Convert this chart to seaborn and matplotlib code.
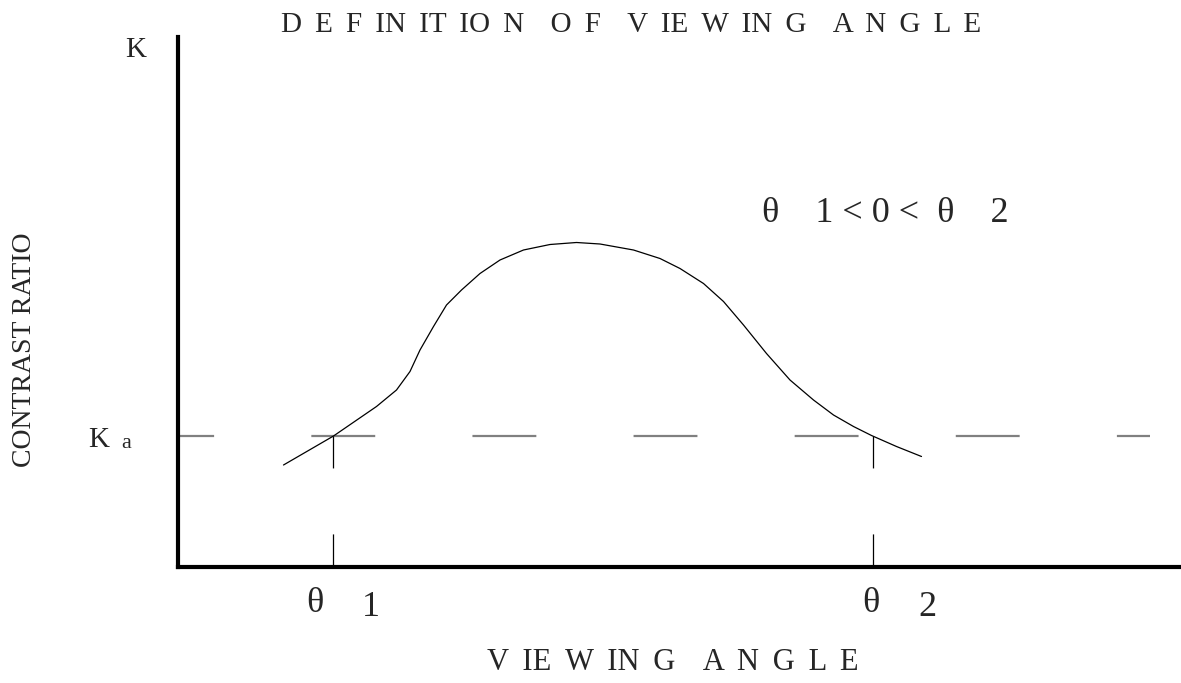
import numpy as np
import pandas as pd
import matplotlib.pyplot as plt
import seaborn as sns

# Curva de contraste (ángulo, razón de contraste)
angle = [-58.9, -48.9, -40.3, -36.3, -33.6, -31.6, -28.9, -26.3, -23.3, -19.6,
         -15.6, -10.9, -5.6, -0.3, 4.4, 11.1, 16.4, 20.4, 25.1, 29.1,
         33.1, 37.7, 42.4, 47.1, 51.1, 55.1, 58.7, 63.7, 68.7]
contrast = [20.4, 26.2, 32.1, 35.4, 39.1, 43.4, 48.1, 52.4, 55.4, 58.7,
            61.4, 63.4, 64.5, 64.9, 64.6, 63.4, 61.7, 59.7, 56.7, 53.1,
            48.4, 42.7, 37.4, 33.4, 30.4, 28.1, 26.3, 24.1, 22.1]
theta_1 = -49
theta_2 = 59
k_a = 26.2
ka_line_x = [-80, 114.4]

df = pd.DataFrame({"angle": angle, "contrast": contrast})

sns.set_style("white")
plt.rcParams["font.family"] = ["Liberation Serif", "DejaVu Serif"]
plt.rcParams["lines.scale_dashes"] = False

fig = plt.figure(figsize=(11.81, 6.83), dpi=100)
ax = fig.add_axes([178 / 1181, 116 / 683, 1 - 178 / 1181, 530 / 683])

# línea discontinua de Ka
ax.plot(ka_line_x, [k_a, k_a], color="#808080", lw=1.6,
        linestyle=(20, (46, 70)), dash_capstyle="butt")

# curva
sns.lineplot(data=df, x="angle", y="contrast", ax=ax, color="black", lw=0.9, sort=False)

# líneas verticales en theta1 y theta2
for t in [theta_1, theta_2]:
    ax.plot([t, t], [k_a, 0], color="black", lw=0.9,
            linestyle=(0, (23, 47.5)), dash_capstyle="butt")

ax.set_xlim(-80, 120.6)
ax.set_ylim(0, 106)
ax.set_xticks([])
ax.set_yticks([])
ax.set_xlabel("")
ax.set_ylabel("")
for s in ["top", "right"]:
    ax.spines[s].set_visible(False)
for s in ["left", "bottom"]:
    ax.spines[s].set_color("black")
    ax.spines[s].set_linewidth(3)

def px(x, y):
    return x / 1181, 1 - y / 683

sp = " \u2009"
title = sp.join("D E F IN IT IO N".split()) + sp * 2 + sp.join("O F".split()) + sp * 2 \
    + sp.join("V IE W IN G".split()) + sp * 2 + sp.join("A N G L E".split())
xlab = sp.join("V IE W IN G".split()) + sp * 2 + sp.join("A N G L E".split())

fig.text(*px(631, 25), title, ha="center", va="center", fontsize=21)
fig.text(*px(136, 50), "K", ha="center", va="center", fontsize=21)
fig.text(*px(99, 440), "K", ha="center", va="center", fontsize=21)
fig.text(*px(126, 443), "a", ha="center", va="center", fontsize=16)
fig.text(*px(25, 350), "CONTRAST RATIO", ha="center", va="center",
         rotation=90, fontsize=20)
fig.text(*px(885, 213), "θ    1 < 0 <  θ    2", ha="center", va="center", fontsize=26)
fig.text(*px(315, 603), "θ", ha="center", va="center", fontsize=26)
fig.text(*px(371, 607), "1", ha="center", va="center", fontsize=26)
fig.text(*px(871, 603), "θ", ha="center", va="center", fontsize=26)
fig.text(*px(927, 607), "2", ha="center", va="center", fontsize=26)
fig.text(*px(673, 663), xlab, ha="center", va="center", fontsize=22)

fig.savefig("out.png", dpi=100)
